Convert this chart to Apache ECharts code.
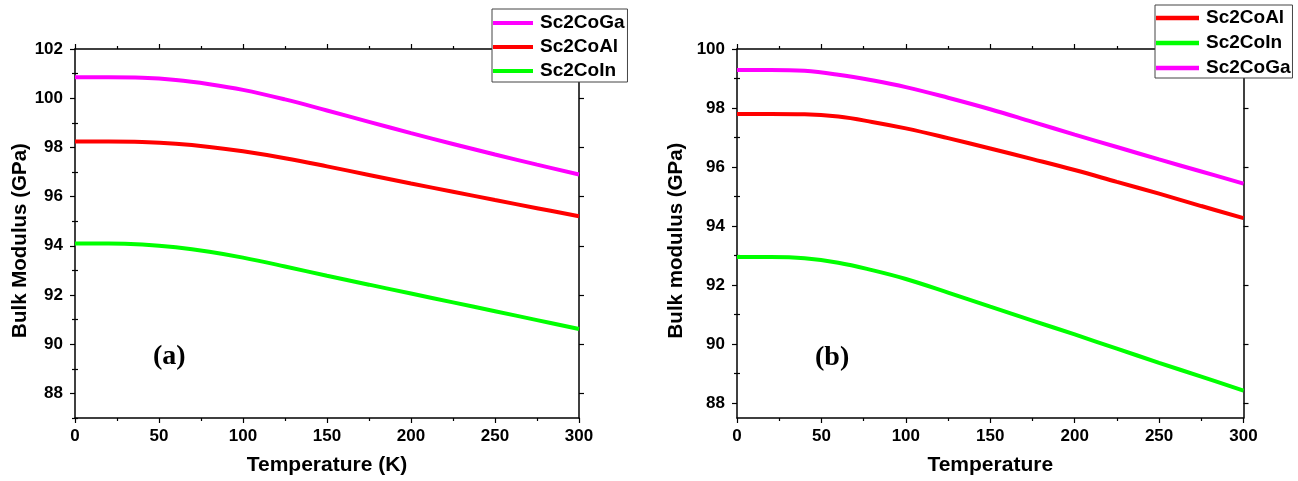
<!DOCTYPE html>
<html>
<head>
<meta charset="utf-8">
<script src="https://cdn.jsdelivr.net/npm/echarts@6/dist/echarts.min.js"></script>
<style>
html,body{margin:0;padding:0;background:#fff;}
#chart{width:1298px;height:481px;}
</style>
</head>
<body>
<div id="chart"></div>
<script>
// ---------- data ----------
const temps = [0, 20, 40, 60, 80, 100, 125, 150, 175, 200, 225, 250, 275, 300];

// panel (a)
const gaA = [100.85, 100.85, 100.83, 100.74, 100.57, 100.34, 99.95, 99.50, 99.04, 98.58, 98.14, 97.71, 97.30, 96.90];
const alA = [98.24, 98.24, 98.22, 98.15, 98.02, 97.84, 97.56, 97.23, 96.88, 96.53, 96.20, 95.86, 95.53, 95.20];
const inA = [94.09, 94.09, 94.05, 93.94, 93.76, 93.52, 93.16, 92.78, 92.42, 92.06, 91.70, 91.34, 90.98, 90.62];

// panel (b)
const gaB = [99.29, 99.29, 99.26, 99.13, 98.94, 98.71, 98.35, 97.96, 97.53, 97.10, 96.68, 96.26, 95.85, 95.44];
const alB = [97.80, 97.80, 97.79, 97.71, 97.53, 97.31, 96.98, 96.63, 96.27, 95.90, 95.50, 95.10, 94.68, 94.27];
const inB = [92.95, 92.95, 92.91, 92.76, 92.51, 92.21, 91.75, 91.27, 90.80, 90.33, 89.85, 89.37, 88.90, 88.43];

// tick values
const yMajorA = [88, 90, 92, 94, 96, 98, 100, 102];
const yMinorA = [87, 89, 91, 93, 95, 97, 99, 101];
const yMajorB = [88, 90, 92, 94, 96, 98, 100];
const yMinorB = [89, 91, 93, 95, 97, 99];

const legendA = ['Sc2CoGa', 'Sc2CoAl', 'Sc2CoIn'];
const legendB = ['Sc2CoAl', 'Sc2CoIn', 'Sc2CoGa'];

const colors = { 'Sc2CoGa': '#ff00ff', 'Sc2CoAl': '#ff0000', 'Sc2CoIn': '#00ff00' };

// ---------- helpers ----------
const FONT = 'Liberation Sans, Arial, sans-serif';
const pts = arr => temps.map((t, i) => [t, arr[i]]);

function xAxes(gridIndex, name) {
  const base = {
    gridIndex, type: 'value', min: 0, max: 300, interval: 50,
    splitLine: { show: false },
    axisLine: { show: true, onZero: false, lineStyle: { color: '#000', width: 1.5 } },
    axisTick: { show: true, inside: false, length: 5, lineStyle: { color: '#000', width: 1.2 } },
    minorTick: { show: true, splitNumber: 2, length: 3, lineStyle: { color: '#000', width: 1.2 } },
    minorSplitLine: { show: false }
  };
  return [
    Object.assign({}, base, {
      position: 'bottom', name,
      nameLocation: 'middle', nameGap: 37,
      nameTextStyle: { fontFamily: FONT, fontWeight: 'bold', fontSize: 21, color: '#000' },
      axisLabel: { show: true, margin: 10, fontFamily: FONT, fontWeight: 'bold', fontSize: 17, color: '#000' }
    }),
    Object.assign({}, base, { position: 'top', axisLabel: { show: false } })
  ];
}

function yAxes(gridIndex, min, max, major, minor, name, nameGap) {
  const line = { show: true, onZero: false, lineStyle: { color: '#000', width: 1.5 } };
  const tickStyle = { color: '#000', width: 1.2 };
  const mk = (pos, vals, len, labels, showLine, withName) => {
    const ax = {
      gridIndex, type: 'value', min, max, position: pos,
      splitLine: { show: false },
      axisLine: showLine ? line : { show: false },
      axisTick: { show: true, inside: false, length: len, customValues: vals, lineStyle: tickStyle },
      axisLabel: labels
        ? { show: true, margin: 12, customValues: vals, fontFamily: FONT, fontWeight: 'bold', fontSize: 17, color: '#000' }
        : { show: false }
    };
    if (withName) {
      ax.name = name;
      ax.nameLocation = 'middle';
      ax.nameGap = nameGap;
      ax.nameTextStyle = { fontFamily: FONT, fontWeight: 'bold', fontSize: 20.5, color: '#000', padding: [0, 14, 0, 0] };
    }
    return ax;
  };
  return [
    mk('left', major, 5, true, true, true),
    mk('left', minor, 3, false, false, false),
    mk('right', major, 5, false, true, false),
    mk('right', minor, 3, false, false, false)
  ];
}

function seriesFor(name, arr, xi, yi) {
  return {
    name, type: 'line', xAxisIndex: xi, yAxisIndex: yi,
    data: pts(arr), smooth: 0.4, showSymbol: false, symbol: 'none',
    lineStyle: { color: colors[name], width: 4 },
    itemStyle: { color: colors[name] },
    clip: false
  };
}

function legendBox(data, left, top, itemWidth, itemGap, padding) {
  return {
    data, orient: 'vertical', left, top,
    icon: 'path://M0,0H40V4H0Z',
    itemWidth, itemHeight: 20, itemGap,
    padding,
    backgroundColor: '#fff', borderColor: '#444', borderWidth: 1,
    selectedMode: false,
    textStyle: { fontFamily: FONT, fontWeight: 'bold', fontSize: 19, color: '#000', lineHeight: 20, padding: [0, 0, 0, 2] }
  };
}

const option = {
  animation: false,
  backgroundColor: '#fff',
  title: [
    { text: '(a)', left: 153, top: 343, padding: 0,
      textStyle: { fontFamily: 'Liberation Serif, serif', fontWeight: 'bold', fontSize: 28, color: '#000' } },
    { text: '(b)', left: 815, top: 344, padding: 0,
      textStyle: { fontFamily: 'Liberation Serif, serif', fontWeight: 'bold', fontSize: 28, color: '#000' } }
  ],
  legend: [
    legendBox(legendA, 492, 9, 40, 4, [4, 3, 1, 1]),
    legendBox(legendB, 1155, 5, 43, 5, [3, 2, 0, 1])
  ],
  grid: [
    { left: 75, top: 49, width: 504, height: 369.5, containLabel: false },
    { left: 737, top: 49, width: 506.5, height: 370.5, containLabel: false }
  ],
  xAxis: [].concat(xAxes(0, 'Temperature (K)'), xAxes(1, 'Temperature')),
  yAxis: [].concat(
    yAxes(0, 87, 102, yMajorA, yMinorA, 'Bulk Modulus (GPa)', 42),
    yAxes(1, 87.5, 100, yMajorB, yMinorB, 'Bulk modulus (GPa)', 50)
  ),
  series: [
    seriesFor('Sc2CoGa', gaA, 0, 0),
    seriesFor('Sc2CoAl', alA, 0, 0),
    seriesFor('Sc2CoIn', inA, 0, 0),
    seriesFor('Sc2CoAl', alB, 2, 4),
    seriesFor('Sc2CoIn', inB, 2, 4),
    seriesFor('Sc2CoGa', gaB, 2, 4)
  ]
};

const chart = echarts.init(document.getElementById('chart'), null, { renderer: 'canvas' });
chart.setOption(option);
</script>
</body>
</html>
